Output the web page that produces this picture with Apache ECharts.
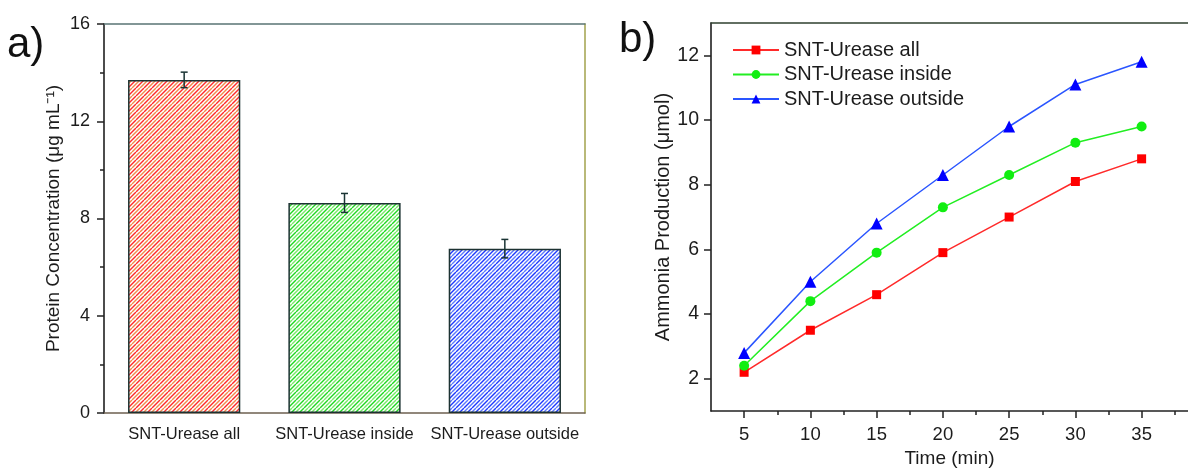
<!DOCTYPE html>
<html>
<head>
<meta charset="utf-8">
<script src="https://cdn.jsdelivr.net/npm/echarts@6/dist/echarts.min.js"></script>
<style>
  html, body { margin: 0; padding: 0; background: #fff; }
  #main { width: 1188px; height: 473px; }
</style>
</head>
<body>
<div id="main"></div>
<script>
// panel a: protein concentration bars
const categories = ['SNT-Urease all', 'SNT-Urease inside', 'SNT-Urease outside']
const protein = [13.7, 8.64, 6.76]
const proteinErr = [0.32, 0.39, 0.38]

// panel b: ammonia production over time
const times = [5, 10, 15, 20, 25, 30, 35]
const ureaseAll = [2.2, 3.5, 4.6, 5.9, 7.0, 8.1, 8.8]
const ureaseInside = [2.4, 4.4, 5.9, 7.3, 8.3, 9.3, 9.8]
const ureaseOutside = [2.8, 5.0, 6.8, 8.3, 9.8, 11.1, 11.8]
const ammoniaTicks = [2, 4, 6, 8, 10, 12]
const ammoniaMinor = [3, 5, 7, 9, 11]
const timeTicks = [5, 10, 15, 20, 25, 30, 35]
const timeMinor = [7.5, 12.5, 17.5, 22.5, 27.5, 32.5, 37.5]

const FONT = '"Liberation Sans", Arial, sans-serif'
const TXT = '#1c1c1c'

// diagonal hatch fill like the origin plot
function hatch (c1, c2) {
  const cv = document.createElement('canvas')
  cv.width = 8
  cv.height = 8
  const ctx = cv.getContext('2d')
  ctx.fillStyle = '#fff'
  ctx.fillRect(0, 0, 8, 8)
  ctx.lineWidth = 1.4
  const draw = (col, offs) => {
    ctx.strokeStyle = col
    offs.forEach(x0 => {
      ctx.beginPath()
      ctx.moveTo(x0, 8)
      ctx.lineTo(x0 + 8, 0)
      ctx.stroke()
    })
  }
  draw(c1, [-8, 0, 8])
  draw(c2, [-4, 4, 12])
  return { image: cv, repeat: 'repeat' }
}
const fills = [
  hatch('#ff2a2a', '#f08a4a'),
  hatch('#22d822', '#77ea66'),
  hatch('#1f3aff', '#5a78ff')
]

const chart = echarts.init(document.getElementById('main'))

const option = {
  animation: false,
  textStyle: { fontFamily: FONT, color: TXT },
  graphic: [
    { type: 'text', left: 7, top: 24, style: { text: 'a)', font: '42px ' + FONT, fill: '#111' } },
    { type: 'text', left: 619, top: 19, style: { text: 'b)', font: '42px ' + FONT, fill: '#111' } }
  ],
  grid: [
    { left: 104, top: 24, right: 603, bottom: 60 },
    { left: 711, top: 23, right: 0, bottom: 56 }
  ],
  legend: {
    data: ['SNT-Urease all', 'SNT-Urease inside', 'SNT-Urease outside'],
    orient: 'vertical',
    left: 732,
    top: 40,
    padding: 0,
    itemWidth: 46,
    itemHeight: 11,
    itemGap: 4.5,
    textStyle: { fontSize: 20, color: TXT, fontFamily: FONT, lineHeight: 20 }
  },
  xAxis: [
    {
      gridIndex: 0, type: 'category', data: categories, position: 'bottom',
      axisLine: { lineStyle: { color: '#6e6050', width: 1.5 } },
      axisTick: { alignWithLabel: true, length: 8, lineStyle: { color: '#2e4a4a', width: 1.5 } },
      axisLabel: { interval: 0, fontSize: 16.5, color: TXT, margin: 13 }
    },
    {
      gridIndex: 0, type: 'category', data: categories, position: 'bottom',
      axisLine: { show: false },
      axisTick: { length: 4, lineStyle: { color: '#333', width: 1.5 } },
      axisLabel: { show: false }
    },
    {
      gridIndex: 0, type: 'category', data: categories, position: 'top',
      axisLine: { lineStyle: { color: '#5a7474', width: 1.5 } },
      axisTick: { show: false }, axisLabel: { show: false }
    },
    {
      gridIndex: 1, type: 'value', min: 2.5, max: 38.5, position: 'bottom',
      axisLine: { onZero: false, lineStyle: { color: '#222', width: 1.5 } },
      axisTick: { customValues: timeTicks, length: 7, lineStyle: { color: '#222', width: 1.5 } },
      axisLabel: { customValues: timeTicks, fontSize: 18.5, color: TXT, margin: 14 },
      splitLine: { show: false },
      name: 'Time (min)', nameLocation: 'middle', nameGap: 35,
      nameTextStyle: { fontSize: 19, color: TXT }
    },
    {
      gridIndex: 1, type: 'value', min: 2.5, max: 38.5, position: 'bottom',
      axisLine: { show: false, onZero: false },
      axisTick: { customValues: timeMinor, length: 4, lineStyle: { color: '#222', width: 1.5 } },
      axisLabel: { show: false }, splitLine: { show: false }
    },
    {
      gridIndex: 1, type: 'value', min: 2.5, max: 38.5, position: 'top',
      axisLine: { onZero: false, lineStyle: { color: '#2f402f', width: 1.5 } },
      axisTick: { show: false }, axisLabel: { show: false }, splitLine: { show: false }
    }
  ],
  yAxis: [
    {
      gridIndex: 0, type: 'value', min: 0, max: 16, interval: 4,
      axisLine: { show: true, lineStyle: { color: '#111', width: 1.5 } },
      axisTick: { show: true, length: 7, lineStyle: { color: '#222', width: 1.5 } },
      minorTick: { show: true, splitNumber: 2, length: 4, lineStyle: { color: '#222', width: 1.5 } },
      axisLabel: { fontSize: 18, color: TXT, margin: 14 },
      splitLine: { show: false },
      name: 'Protein Concentration (μg mL⁻¹)', nameLocation: 'middle', nameGap: 41,
      nameTextStyle: { fontSize: 19, color: TXT }
    },
    {
      gridIndex: 0, type: 'value', min: 0, max: 16, position: 'right',
      axisLine: { show: true, lineStyle: { color: '#a2a24c', width: 1.5 } },
      axisTick: { show: false }, axisLabel: { show: false }, splitLine: { show: false }
    },
    {
      gridIndex: 1, type: 'value', min: 1, max: 13,
      axisLine: { show: true, onZero: false, lineStyle: { color: '#111', width: 1.5 } },
      axisTick: { show: true, customValues: ammoniaTicks, length: 7, lineStyle: { color: '#222', width: 1.5 } },
      axisLabel: { customValues: ammoniaTicks, fontSize: 19.5, color: TXT, margin: 12 },
      splitLine: { show: false },
      name: 'Ammonia Production (μmol)', nameLocation: 'middle', nameGap: 38,
      nameTextStyle: { fontSize: 20, color: TXT }
    },
    {
      gridIndex: 1, type: 'value', min: 1, max: 13,
      axisLine: { show: false, onZero: false },
      axisTick: { show: true, customValues: ammoniaMinor, length: 4, lineStyle: { color: '#222', width: 1.5 } },
      axisLabel: { show: false }, splitLine: { show: false }
    }
  ],
  series: [
    {
      type: 'bar', xAxisIndex: 0, yAxisIndex: 0, barWidth: '70%',
      data: protein.map((v, i) => ({
        value: v,
        itemStyle: { color: fills[i], borderColor: '#1c3232', borderWidth: 1.5 }
      }))
    },
    {
      type: 'custom', xAxisIndex: 0, yAxisIndex: 0, z: 5,
      data: protein.map((v, i) => [i, v + proteinErr[i], v - proteinErr[i]]),
      encode: { x: 0, y: [1, 2] },
      renderItem: (params, api) => {
        const top = api.coord([api.value(0), api.value(1)])
        const bot = api.coord([api.value(0), api.value(2)])
        const hw = 3.5
        const st = { stroke: '#1a3434', lineWidth: 1.5, fill: null }
        return {
          type: 'group',
          children: [
            { type: 'line', shape: { x1: top[0], y1: top[1], x2: bot[0], y2: bot[1] }, style: st },
            { type: 'line', shape: { x1: top[0] - hw, y1: top[1], x2: top[0] + hw, y2: top[1] }, style: st },
            { type: 'line', shape: { x1: bot[0] - hw, y1: bot[1], x2: bot[0] + hw, y2: bot[1] }, style: st }
          ]
        }
      }
    },
    {
      name: 'SNT-Urease all', type: 'line', xAxisIndex: 3, yAxisIndex: 2,
      data: times.map((t, i) => [t, ureaseAll[i]]),
      symbol: 'rect', symbolSize: 9,
      lineStyle: { color: '#ff2a2a', width: 1.5 },
      itemStyle: { color: '#ff0000' }
    },
    {
      name: 'SNT-Urease inside', type: 'line', xAxisIndex: 3, yAxisIndex: 2,
      data: times.map((t, i) => [t, ureaseInside[i]]),
      symbol: 'circle', symbolSize: 10,
      lineStyle: { color: '#22ee22', width: 1.5 },
      itemStyle: { color: '#11ee11' }
    },
    {
      name: 'SNT-Urease outside', type: 'line', xAxisIndex: 3, yAxisIndex: 2,
      data: times.map((t, i) => [t, ureaseOutside[i]]),
      symbol: 'triangle', symbolSize: 12,
      lineStyle: { color: '#2a55ff', width: 1.5 },
      itemStyle: { color: '#0000ff' }
    }
  ]
}

chart.setOption(option)
</script>
</body>
</html>
